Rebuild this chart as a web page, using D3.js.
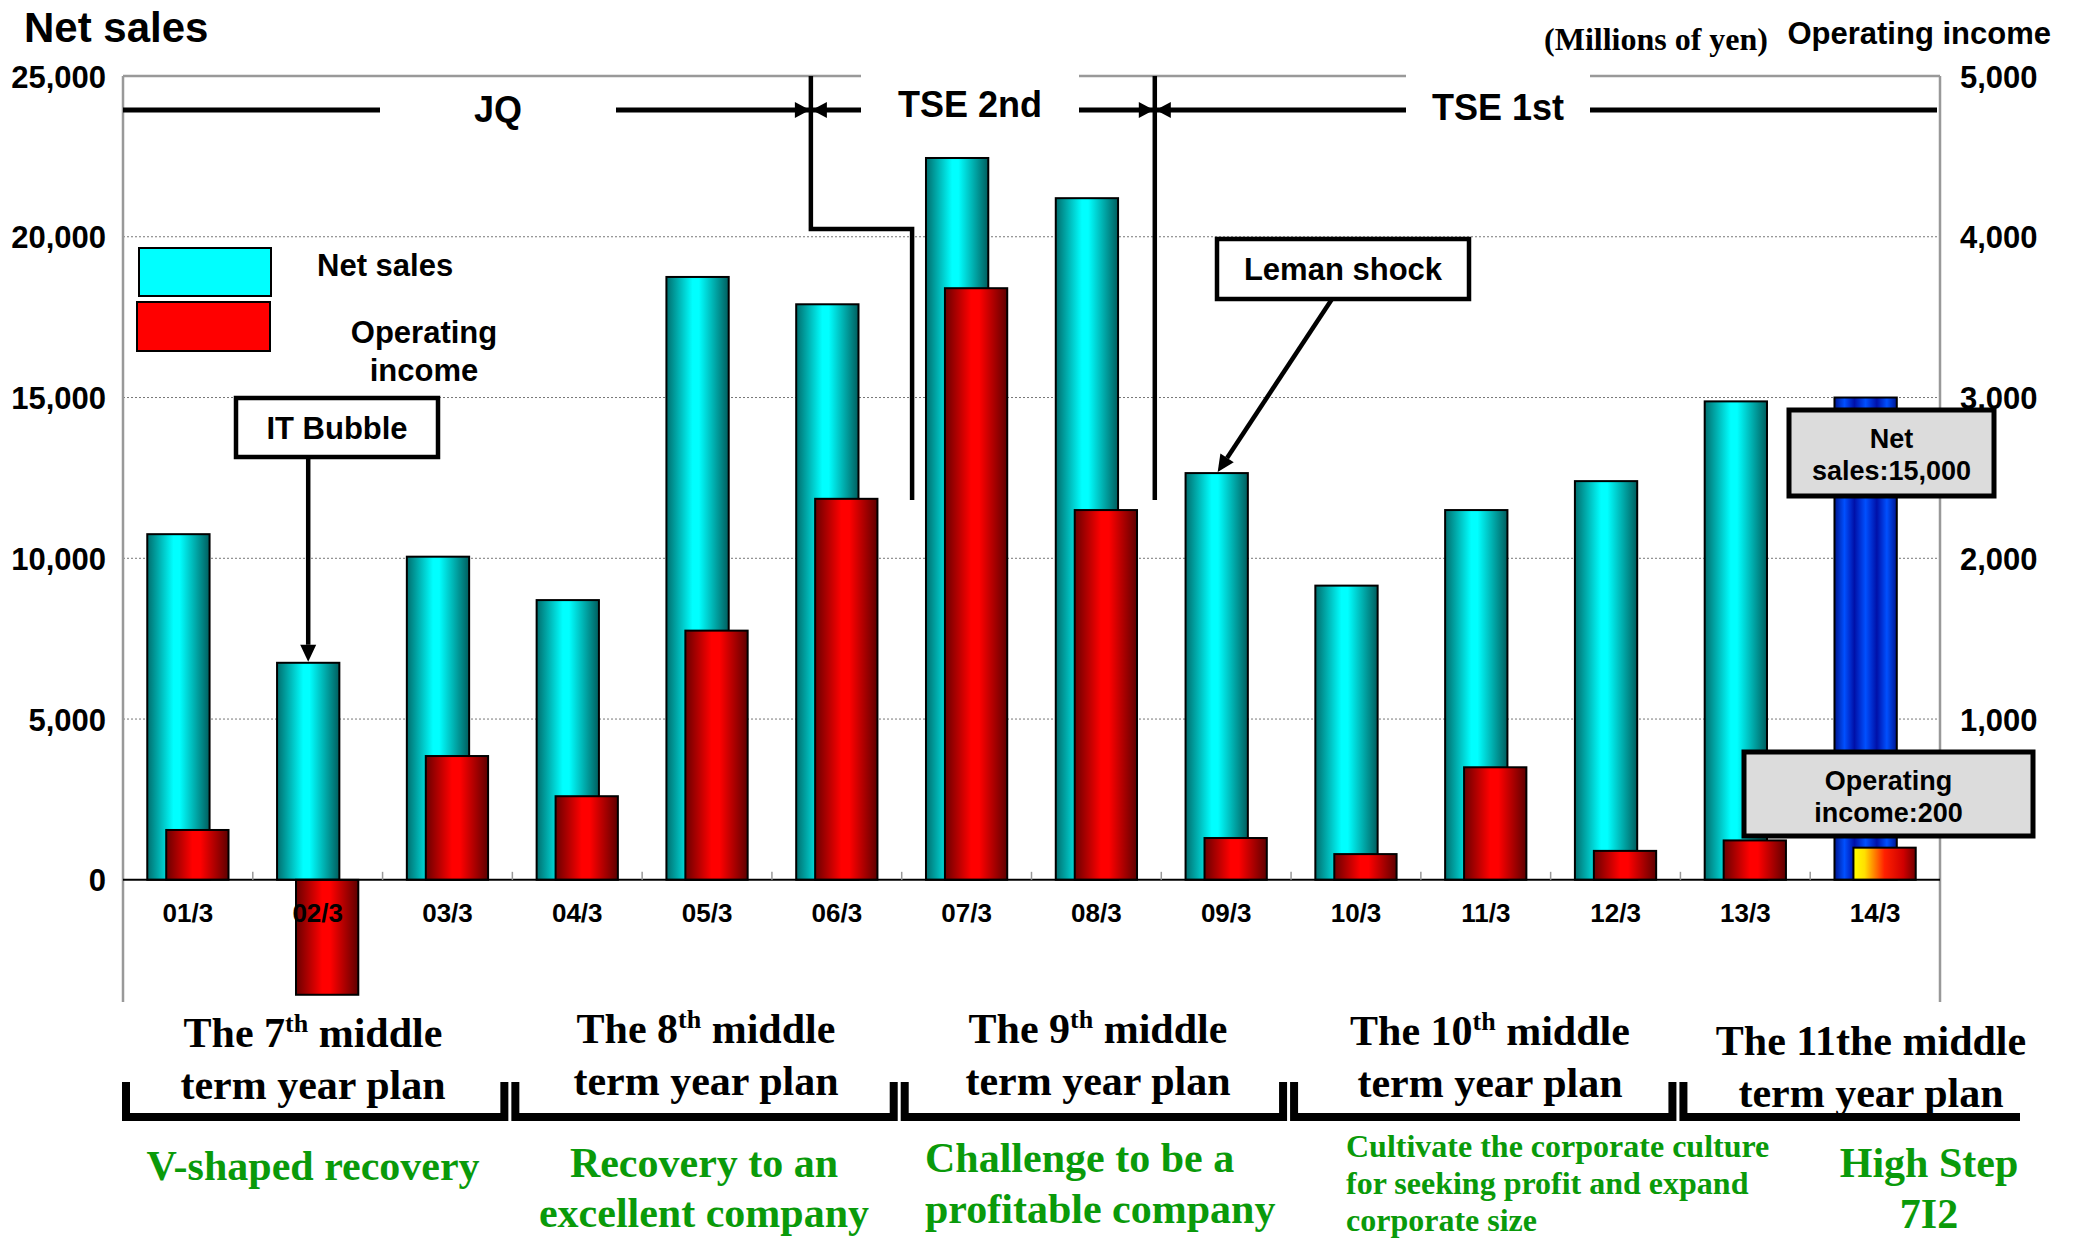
<!DOCTYPE html>
<html>
<head>
<meta charset="utf-8">
<script src="https://cdn.jsdelivr.net/npm/d3@7"></script>
<style>
  body { margin: 0; background: #fff; }
  svg { display: block; }
</style>
</head>
<body>
<div id="chart"></div>
<script>
(function () {
  "use strict";

  // values (millions of yen)
  var categories = ["01/3", "02/3", "03/3", "04/3", "05/3", "06/3", "07/3",
                    "08/3", "09/3", "10/3", "11/3", "12/3", "13/3", "14/3"];
  var netSales = [10750, 6750, 10050, 8700, 18750, 17900, 22450,
                  21200, 12650, 9150, 11500, 12400, 14880, 15000];
  var operatingIncome = [310, -715, 770, 520, 1550, 2370, 3680,
                         2300, 260, 160, 700, 180, 245, 200];
  var leftTicks = [0, 5000, 10000, 15000, 20000, 25000];
  var rightTicks = [1000, 2000, 3000, 4000, 5000];
  var gridTicks = [5000, 10000, 15000, 20000];
  var forecast = "14/3";
  var markets = ["JQ", "TSE 2nd", "TSE 1st"];
  var planStart = ["01/3", "04/3", "07/3", "10/3", "13/3"];
  var planEnd = ["03/3", "06/3", "09/3", "12/3", "14/3"];
  var planTitles = [["The 7", "th", " middle"], ["The 8", "th", " middle"], ["The 9", "th", " middle"],
                    ["The 10", "th", " middle"], ["The 11the middle"]];
  var planGoals = [["V-shaped recovery"], ["Recovery to an", "excellent company"],
                   ["Challenge to be a", "profitable company"],
                   ["Cultivate the corporate culture", "for seeking profit and expand", "corporate size"],
                   ["High Step", "7I2"]];

  var W = 2074, H = 1240,
    left = 123, right = 1940, top = 76, bottom = 1002,
    sans = "'Liberation Sans', Arial, sans-serif",
    serif = "'Liberation Serif', 'Times New Roman', serif",
    green = "#0a9a0a";

  var svg = d3.select("#chart").append("svg")
    .attr("width", W).attr("height", H);

  var x = d3.scaleBand().domain(categories).range([left, right]);
  var bw = x.bandwidth();
  var barW = bw * 0.48;
  var yL = d3.scaleLinear().domain([-3800, 25000]).range([bottom, top]);
  var yR = d3.scaleLinear().domain([-760, 5000]).range([bottom, top]);

  // gradients
  var defs = svg.append("defs");
  function grad(id, stops) {
    var g = defs.append("linearGradient").attr("id", id)
      .attr("x1", "0%").attr("x2", "100%").attr("y1", "0%").attr("y2", "0%");
    stops.forEach(function (s) {
      g.append("stop").attr("offset", s[0]).attr("stop-color", s[1]);
    });
  }
  grad("cyanG", [[0, "#006e6e"], [0.42, "#00ffff"], [0.52, "#00ffff"], [1, "#005e5e"]]);
  grad("redG", [[0, "#6a0000"], [0.42, "#ff0000"], [0.55, "#ff0000"], [1, "#5e0000"]]);
  grad("blueG", [[0, "#001590"], [0.16, "#0050ff"], [0.32, "#0010a8"], [0.5, "#0050ff"],
                 [0.68, "#0010a8"], [0.84, "#0050ff"], [1, "#001590"]]);
  grad("fireG", [[0, "#ffff00"], [0.18, "#ffe000"], [0.5, "#ff2000"], [0.8, "#d00000"], [1, "#700000"]]);

  // grid
  svg.append("g").selectAll("line").data(gridTicks).enter().append("line")
    .attr("x1", left).attr("x2", right)
    .attr("y1", function (d) { return yL(d); }).attr("y2", function (d) { return yL(d); })
    .attr("stroke", "#777").attr("stroke-width", 1).attr("stroke-dasharray", "2,2");

  // frame
  svg.append("line").attr("x1", left).attr("x2", right).attr("y1", top).attr("y2", top)
    .attr("stroke", "#999").attr("stroke-width", 2.5);
  svg.append("line").attr("x1", left).attr("x2", left).attr("y1", top).attr("y2", bottom)
    .attr("stroke", "#999").attr("stroke-width", 2.5);
  svg.append("line").attr("x1", right).attr("x2", right).attr("y1", top).attr("y2", bottom)
    .attr("stroke", "#999").attr("stroke-width", 2.5);

  // bars
  var rows = categories.map(function (c, i) {
    return { cat: c, sales: netSales[i], income: operatingIncome[i] };
  });
  var cx = function (d) { return x(d.cat) + bw / 2; };

  svg.append("g").selectAll("rect").data(rows).enter().append("rect")
    .attr("x", function (d) { return cx(d) - bw * 0.073 - barW / 2; })
    .attr("width", barW)
    .attr("y", function (d) { return yL(d.sales); })
    .attr("height", function (d) { return yL(0) - yL(d.sales); })
    .attr("fill", function (d) { return d.cat === forecast ? "url(#blueG)" : "url(#cyanG)"; })
    .attr("stroke", "#000").attr("stroke-width", 2);

  svg.append("g").selectAll("rect").data(rows).enter().append("rect")
    .attr("x", function (d) { return cx(d) + bw * 0.073 - barW / 2; })
    .attr("width", barW)
    .attr("y", function (d) { return yR(Math.max(0, d.income)); })
    .attr("height", function (d) { return Math.abs(yR(0) - yR(d.income)); })
    .attr("fill", function (d) { return d.cat === forecast ? "url(#fireG)" : "url(#redG)"; })
    .attr("stroke", "#000").attr("stroke-width", 2);

  // zero line + boundary ticks
  svg.append("line").attr("x1", left).attr("x2", right).attr("y1", yL(0)).attr("y2", yL(0))
    .attr("stroke", "#000").attr("stroke-width", 2);
  svg.append("g").selectAll("line").data(categories.slice(1)).enter().append("line")
    .attr("x1", function (d) { return x(d); }).attr("x2", function (d) { return x(d); })
    .attr("y1", yL(0) - 8).attr("y2", yL(0))
    .attr("stroke", "#999").attr("stroke-width", 1.5);

  // axes
  var axL = svg.append("g").attr("transform", "translate(" + left + ",0)")
    .call(d3.axisLeft(yL).tickValues(leftTicks).tickSize(0).tickPadding(17).tickFormat(d3.format(",")));
  var axR = svg.append("g").attr("transform", "translate(" + right + ",0)")
    .call(d3.axisRight(yR).tickValues(rightTicks).tickSize(0).tickPadding(20).tickFormat(d3.format(",")));
  var axB = svg.append("g").attr("transform", "translate(0," + yL(0) + ")")
    .call(d3.axisBottom(x).tickSize(0).tickPadding(24));
  [axL, axR, axB].forEach(function (a) {
    a.select(".domain").remove();
    a.selectAll("text").attr("font-family", sans).attr("font-weight", "bold").attr("fill", "#000");
  });
  axL.selectAll("text").attr("font-size", 31).attr("dy", "0.36em");
  axR.selectAll("text").attr("font-size", 31).attr("dy", "0.36em");
  axB.selectAll("text").attr("font-size", 26);

  // titles
  svg.append("text").attr("x", 24).attr("y", 42).text("Net sales")
    .attr("font-family", sans).attr("font-weight", "bold").attr("font-size", 42);
  svg.append("text").attr("x", 2051).attr("y", 44).attr("text-anchor", "end").text("Operating income")
    .attr("font-family", sans).attr("font-weight", "bold").attr("font-size", 31);
  svg.append("text").attr("x", 1768).attr("y", 50).attr("text-anchor", "end").text("(Millions of yen)")
    .attr("font-family", serif).attr("font-weight", "bold").attr("font-size", 32);

  // market segments
  var b1 = x("06/3") + bw * 0.3,
    step = x("07/3") + bw * 0.08,
    b2 = x("08/3") + bw * 0.95,
    lineY = 110,
    mCenter = [498, 970, 1498],
    mGap = [118, 109, 92],
    mFrom = [left, b1, b2],
    mTo = [b1, b2, right - 3],
    mBase = [122, 117, 120];

  markets.forEach(function (m, i) {
    if (i > 0) {
      svg.append("rect").attr("x", mCenter[i] - mGap[i]).attr("y", top - 4)
        .attr("width", mGap[i] * 2).attr("height", 10).attr("fill", "#fff");
    }
    svg.append("line").attr("x1", mFrom[i]).attr("x2", mCenter[i] - mGap[i])
      .attr("y1", lineY).attr("y2", lineY).attr("stroke", "#000").attr("stroke-width", 5);
    svg.append("line").attr("x1", mCenter[i] + mGap[i]).attr("x2", mTo[i])
      .attr("y1", lineY).attr("y2", lineY).attr("stroke", "#000").attr("stroke-width", 5);
    svg.append("text").attr("x", mCenter[i]).attr("y", mBase[i]).attr("text-anchor", "middle")
      .text(m).attr("font-family", sans).attr("font-weight", "bold").attr("font-size", 36);
  });

  function tri(pts) {
    svg.append("path").attr("d", "M" + pts.join("L") + "Z").attr("fill", "#000");
  }
  [b1, b2].forEach(function (bx) {
    tri([[bx - 1, lineY], [bx - 16, lineY - 8], [bx - 16, lineY + 8]]);
    tri([[bx + 1, lineY], [bx + 16, lineY - 8], [bx + 16, lineY + 8]]);
  });
  svg.append("path")
    .attr("d", "M" + b1 + "," + top + "V229H" + step + "V500")
    .attr("fill", "none").attr("stroke", "#000").attr("stroke-width", 4.5);
  svg.append("path")
    .attr("d", "M" + b2 + "," + top + "V500")
    .attr("fill", "none").attr("stroke", "#000").attr("stroke-width", 4.5);

  // legend
  svg.append("rect").attr("x", 139).attr("y", 248).attr("width", 132).attr("height", 48)
    .attr("fill", "#00ffff").attr("stroke", "#000").attr("stroke-width", 2);
  svg.append("rect").attr("x", 137).attr("y", 302).attr("width", 133).attr("height", 49)
    .attr("fill", "#ff0000").attr("stroke", "#000").attr("stroke-width", 2);
  svg.append("text").attr("x", 317).attr("y", 276).text("Net sales")
    .attr("font-family", sans).attr("font-weight", "bold").attr("font-size", 31);
  svg.append("text").attr("x", 424).attr("y", 343).attr("text-anchor", "middle").text("Operating")
    .attr("font-family", sans).attr("font-weight", "bold").attr("font-size", 31);
  svg.append("text").attr("x", 424).attr("y", 381).attr("text-anchor", "middle").text("income")
    .attr("font-family", sans).attr("font-weight", "bold").attr("font-size", 31);

  // callouts
  function arrow(x1, y1, x2, y2) {
    var a = Math.atan2(y2 - y1, x2 - x1), L = 17, h = 8;
    var bx = x2 - L * Math.cos(a), by = y2 - L * Math.sin(a);
    svg.append("line").attr("x1", x1).attr("y1", y1).attr("x2", bx).attr("y2", by)
      .attr("stroke", "#000").attr("stroke-width", 4.5);
    tri([[x2, y2], [bx + h * Math.sin(a), by - h * Math.cos(a)], [bx - h * Math.sin(a), by + h * Math.cos(a)]]);
  }
  function box(x0, y0, w, h, fill, sw, lines, size, base, gap) {
    svg.append("rect").attr("x", x0).attr("y", y0).attr("width", w).attr("height", h)
      .attr("fill", fill).attr("stroke", "#000").attr("stroke-width", sw);
    lines.forEach(function (t, i) {
      svg.append("text").attr("x", x0 + w / 2).attr("y", y0 + base + i * gap)
        .attr("text-anchor", "middle").text(t)
        .attr("font-family", sans).attr("font-weight", "bold").attr("font-size", size);
    });
  }
  var itX = x("02/3") + bw / 2 - bw * 0.073;
  arrow(itX, 455, itX, yL(netSales[1]) - 1);
  box(236, 398, 202, 59, "#fff", 4.5, ["IT Bubble"], 31, 41, 0);

  var lmX = x("09/3") + bw / 2 - bw * 0.073;
  arrow(1334, 296, lmX + 1, yL(netSales[8]) - 1);
  box(1217, 239, 252, 60, "#fff", 4.5, ["Leman shock"], 31, 41, 0);

  box(1789, 410, 205, 86, "#dcdcdc", 5, ["Net", "sales:" + d3.format(",")(netSales[13])], 27, 38, 32);
  box(1744, 752, 289, 84, "#dcdcdc", 5, ["Operating", "income:" + operatingIncome[13]], 27, 38, 32);

  // mid-term plan brackets
  planStart.forEach(function (s, i) {
    var x0 = x(s) + 3,
      last = i === planStart.length - 1,
      x1 = last ? 2020 : x(planEnd[i]) + bw - 8;
    var d = "M" + x0 + ",1082V1117H" + x1 + (last ? "" : "V1082");
    svg.append("path").attr("d", d).attr("fill", "none")
      .attr("stroke", "#000").attr("stroke-width", 8);
  });

  var titleX = [313, 706, 1098, 1490, 1871],
    titleY = [1047, 1043, 1043, 1045, 1055];
  planTitles.forEach(function (t, i) {
    var tx = svg.append("text").attr("x", titleX[i]).attr("y", titleY[i]).attr("text-anchor", "middle")
      .attr("font-family", serif).attr("font-weight", "bold").attr("font-size", 42);
    tx.append("tspan").text(t[0]);
    if (t.length > 1) {
      tx.append("tspan").text(t[1]).attr("font-size", 26).attr("dy", -15);
      tx.append("tspan").text(t[2]).attr("dy", 15);
    }
    svg.append("text").attr("x", titleX[i]).attr("y", titleY[i] + 52).attr("text-anchor", "middle")
      .text("term year plan")
      .attr("font-family", serif).attr("font-weight", "bold").attr("font-size", 42);
  });

  var goalX = [313, 704, 925, 1346, 1929],
    goalAnchor = ["middle", "middle", "start", "start", "middle"],
    goalY = [1180, 1177, 1172, 1157, 1177],
    goalGap = [50, 50, 51, 37, 51],
    goalSize = [42, 42, 42, 32, 42];
  planGoals.forEach(function (g, i) {
    g.forEach(function (t, j) {
      svg.append("text").attr("x", goalX[i]).attr("y", goalY[i] + j * goalGap[i])
        .attr("text-anchor", goalAnchor[i]).text(t).attr("fill", green)
        .attr("font-family", serif).attr("font-weight", "bold").attr("font-size", goalSize[i]);
    });
  });
})();
</script>
</body>
</html>
